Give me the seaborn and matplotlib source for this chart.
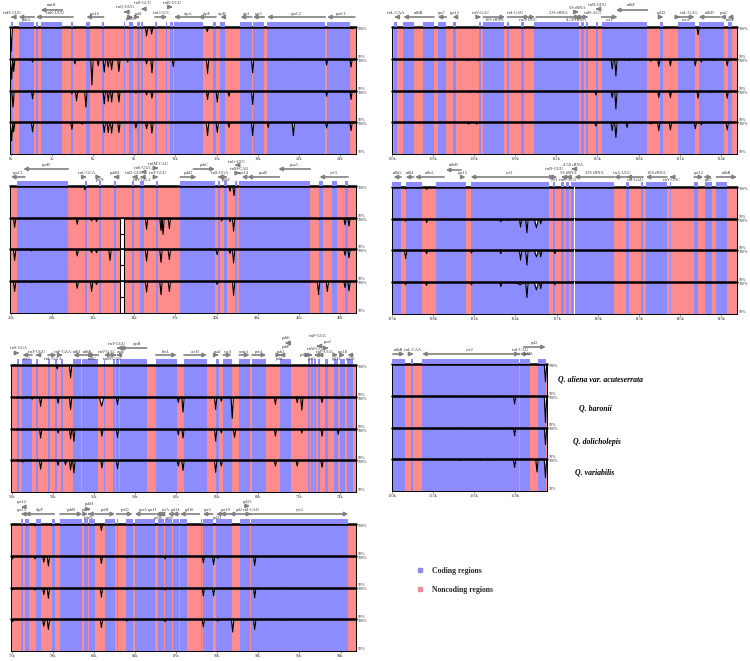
import seaborn as sns
import matplotlib.pyplot as plt
from matplotlib.lines import Line2D

# kb windows and tick labels
p1_ticks = [0, 3, 6, 9, 12, 15, 18, 21, 24]
p2_ticks = [100, 103, 106, 109, 112, 115, 118, 121, 124]
p3_ticks = [25, 28, 31, 34, 37, 40, 43, 46, 49]
p4_ticks = [125, 128, 131, 134, 137, 140, 143, 146, 149]
p5_ticks = [50, 53, 56, 59, 62, 65, 68, 71, 74]
p6_ticks = [150, 153, 156, 159]
p7_ticks = [75, 78, 81, 84, 87, 90, 93, 96, 99]

species = ['Q. aliena var. acuteserrata', 'Q. baronii', 'Q. dolicholepis', 'Q. variabilis']
legend_labels = ['Coding regions', 'Noncoding regions']

# coding regions (start, end) in kb
p1_coding = [(0, .12), (.56, 1.70), (1.82, 1.95), (2.17, 3.75), (4.40, 4.53), (5.50, 5.77), (6.64, 6.76),
             (8.25, 8.35), (8.64, 8.88), (9.20, 9.39), (9.49, 9.64), (10.51, 10.66), (11.31, 11.41),
             (11.63, 11.80), (11.90, 14.01), (14.74, 14.96), (15.28, 15.60), (16.74, 17.57), (17.66, 18.49),
             (18.69, 22.94), (23.07, 24.72)]
p2_coding = [(100.17, 100.34), (100.78, 101.58), (102.23, 103.06), (103.33, 103.91), (104.42, 104.69),
             (106.36, 106.53), (106.66, 108.21), (108.43, 108.55), (109.42, 109.64), (110.40, 113.65),
             (113.82, 114.04), (114.14, 114.33), (114.87, 115.01), (115.30, 118.65), (119.55, 119.82),
             (120.91, 122.10), (122.39, 123.95), (123.97, 124.27), (124.51, 124.85)]
p3_coding = [(25.44, 29.18), (30.38, 30.52), (31.42, 31.59), (32.49, 32.69), (33.83, 33.98), (34.42, 34.68),
             (35.58, 35.75), (37.36, 39.89), (40.08, 40.26), (40.57, 40.79), (41.33, 41.50), (41.64, 41.84),
             (41.89, 46.85), (47.51, 47.75), (48.45, 48.77), (49.38, 49.60)]
p4_coding = [(124.9, 125.66), (126.0, 127.19), (128.21, 130.37), (130.73, 136.44), (136.73, 136.88),
             (137.36, 137.51), (137.70, 137.90), (138.09, 141.20), (142.08, 142.29), (143.19, 143.31),
             (143.51, 145.04), (145.26, 145.38), (147.03, 147.32), (147.81, 148.34), (148.66, 149.46)]
p5_coding = [(50.39, 50.56), (50.78, 51.48), (51.75, 51.90), (52.65, 52.80), (53.16, 53.28), (53.60, 53.72),
             (54.50, 55.06), (55.13, 56.33), (56.74, 56.81), (57.42, 57.54), (57.66, 57.86), (57.91, 59.88),
             (60.54, 62.07), (62.60, 64.28), (64.94, 65.13), (65.47, 66.08), (66.64, 67.40), (67.57, 68.61),
             (69.59, 70.39), (71.68, 71.82), (71.87, 72.02), (72.12, 72.26), (72.38, 72.58), (72.92, 73.16),
             (73.58, 73.87), (73.99, 74.38), (74.55, 74.96)]
p6_coding = [(149.9, 150.92), (151.41, 151.56), (152.19, 159.25), (159.32, 160.07), (160.66, 161.22)]
p7_coding = [(75.68, 75.85), (75.97, 76.27), (76.80, 77.17), (77.94, 78.14), (78.53, 80.16), (80.26, 80.57),
             (80.67, 81.06), (81.84, 82.54), (82.66, 82.76), (83.35, 83.83), (83.98, 85.49), (85.66, 86.09),
             (86.17, 86.73), (86.80, 87.21), (87.29, 87.77), (88.82, 88.92), (88.94, 89.67), (89.91, 91.06),
             (91.67, 92.40), (92.49, 99.57)]

# genes: names, arrow start, arrow end (kb), direction follows start -> end
p1_names = ['trnH-GUG', 'psbA', 'matK', 'trnK-UUU', 'rps16', 'trnQ-UUG', 'psbK', 'psbI', 'trnS-GCU', 'trnG-GCC',
            'trnR-UCU', 'atpA', 'atpF', 'atpH', 'atpI', 'rps2', 'rpoC2', 'rpoC1']
p1_from = [.12, 1.70, 3.75, 4.53, 6.76, 8.35, 8.64, 9.20, 9.64, 10.51, 11.63, 14.01, 14.96, 15.60, 17.57, 18.49, 22.94, 25.10]
p1_to = [0, .56, 2.17, 1.82, 5.50, 8.25, 8.88, 9.39, 9.49, 11.41, 11.80, 11.90, 13.67, 15.28, 16.74, 17.66, 18.69, 23.07]
p1_rows = [(10, 14), (10, 7), (17, 22), (10, 14), (10, 13.5), (15, 20), (10, 8), (10, 13), (18, 24), (10, 14),
           (20, 24), (10, 13.5), (10, 13.5), (10, 13.5), (10, 13.5), (10, 13.5), (10, 13.5), (10, 13.5)]

p2_names = ['trnL-CAA', 'ndhB', 'rps7', 'rps12', 'trnV-GAC', '16S rRNA', 'trnI-GAU', 'trnA-UGC', '23S rRNA',
            '4.5S rRNA', '5S rRNA', 'trnR-ACG', 'trnN-GUU', 'ycf1', 'ndhF', 'rpl32', 'trnL-UAG', 'ccsA', 'ndhD',
            'psaC', 'ndhE']
p2_from = [100.34, 103.06, 103.96, 104.71, 106.36, 106.66, 108.43, 109.64, 110.52, 113.82, 113.50, 114.14, 115.01,
           115.30, 118.65, 119.55, 120.91, 120.91, 123.95, 124.27, 124.85]
p2_to = [100.17, 100.83, 103.33, 104.42, 106.50, 108.26, 110.44, 109.42, 113.72, 113.99, 113.63, 114.33, 114.87,
         116.47, 116.35, 119.82, 121.04, 122.10, 122.39, 123.97, 124.51]
p2_rows = [(10, 14), (10, 14), (10, 14), (10, 14), (10, 14), (10, 7), (10, 14, -7), (10, 7, 5), (10, 14), (10, 7, -6),
           (15, 19), (10, 14, 5), (18, 22), (10, 7), (17, 22), (10, 14), (10, 14, 9), (10, 7), (10, 14), (10, 14, 2),
           (10, 7)]

p3_names = ['rpoC1', 'rpoB', 'trnC-GCA', 'petN', 'psbM', 'trnD-GUC', 'trnE-UUC', 'trnY-GUA', 'trnfM-CAU', 'trnT-GGU',
            'psbD', 'psbC', 'trnS-UGA', 'psbZ', 'trnG-UCC', 'trnM-CAU', 'rps14', 'psaB', 'psaA', 'ycf3']
p3_from = [26.02, 29.18, 30.38, 31.44, 32.69, 33.98, 34.66, 34.55, 35.63, 35.58, 37.36, 38.31, 40.26, 40.57, 41.50,
           41.60, 42.20, 44.59, 46.85, 49.60]
p3_to = [25.0, 25.90, 30.52, 31.57, 32.49, 33.83, 34.47, 34.42, 35.75, 35.75, 38.55, 39.89, 40.08, 40.79, 41.33,
         41.72, 41.84, 42.25, 44.51, 47.51]
p3_rows = [(9, 13), (17, 21), (9, 13), (9, 6), (9, 13), (9, 13), (14, 18), (9, 6), (18, 22), (9, 13), (9, 13),
           (17, 21), (9, 13), (9, 6), (21, 24), (13, 17), (9, 13), (9, 13), (17, 21), (9, 13)]

p4_names = ['ndhG', 'ndhI', 'ndhA', 'ndhH', 'rps15', 'ycf1', 'trnN-GUU', 'ycf1', '5S rRNA', 'trnR-ACG', '4.5S rRNA',
            '23S rRNA', 'trnA-UGC', 'trnI-GAU', '16S rRNA', 'trnV-GAC', 'rps12', 'rps7', 'ndhB']
p4_from = [125.66, 126.58, 128.79, 130.03, 130.03, 136.44, 136.73, 136.75, 137.51, 137.90, 138.25, 141.20, 142.20,
           143.31, 145.04, 145.38, 147.03, 147.81, 148.66]
p4_to = [125.12, 126.0, 126.68, 128.93, 130.37, 130.73, 136.88, 137.05, 137.36, 137.70, 138.09, 138.30, 141.20,
         142.10, 143.51, 145.26, 147.70, 148.34, 150.15]
p4_rows = [(10, 14), (10, 14), (10, 14), (17, 22), (10, 14), (10, 14), (10, 18), (10, 7), (10, 14, 6), (10, 7), (18, 22),
           (10, 14), (10, 14), (10, 7), (10, 14), (10, 7), (10, 14), (10, 7), (10, 14)]

p5_names = ['trnS-GGA', 'rps4', 'trnT-UGU', 'trnL-UAA', 'trnF-GAA', 'ndhJ', 'ndhK', 'ndhC', 'trnV-UAC', 'trnM-CAU',
            'trnT-GGU', 'atpE', 'atpB', 'rbcL', 'accD', 'psaI', 'ycf4', 'cemA', 'petA', 'psbJ', 'psbL', 'psbF', 'psbE',
            'petL', 'petG', 'trnW-CCA', 'trnP-UGG', 'psaJ', 'trnP-GGG', 'rpl33', 'rps18', 'rpl20']
p5_from = [50.39, 51.48, 51.90, 52.65, 53.60, 55.06, 55.13, 56.33, 57.54, 57.54, 57.80, 57.86, 59.88, 60.54, 62.60,
           64.94, 65.47, 66.64, 67.57, 69.78, 69.59, 70.20, 70.20, 71.68, 71.87, 72.26, 72.58, 73.00, 72.40, 73.58,
           73.99, 74.96]
p5_to = [50.56, 50.78, 51.75, 53.28, 53.72, 54.50, 56.0, 55.5, 56.74, 57.66, 57.70, 57.66, 57.91, 62.07, 64.28,
         65.13, 66.08, 67.40, 68.61, 69.59, 69.70, 70.00, 70.00, 71.82, 72.02, 72.12, 72.38, 73.16, 72.30, 73.87,
         74.38, 74.55]
p5_rows = [(12, 17), (10, 6), (10, 13), (10, 6), (10, 13), (10, 13), (10, 13), (10, 6), (10, 13, -3), (10, 6, -4), (17, 21, -2),
           (10, 13, 3), (17, 21, 4), (10, 13), (10, 13), (10, 13), (10, 13), (10, 13), (10, 13), (10, 13), (10, 6), (22, 18),
           (22, 27), (10, 10, -5), (10, 6), (10, 16), (10, 13, 5), (17, 23), (19, 29), (10, 6), (10, 13), (10, 6)]

p6_names = ['ndhB', 'trnL-CAA', 'ycf2', 'trnI-CAU', 'rpl23', 'rpl2']
p6_from = [150.07, 151.41, 159.20, 159.25, 160.07, 159.61]
p6_to = [150.92, 151.56, 152.19, 159.32, 159.32, 161.22]
p6_rows = [(10, 14), (10, 14), (10, 14), (10, 14), (10, 10, 4), (17, 21)]

p7_names = ['rps12', 'rps12', 'clpP', 'psbB', 'psbT', 'psbN', 'psbH', 'petB', 'petD', 'rpoA', 'rps11', 'rpl36', 'infA',
            'rps8', 'rpl14', 'rpl16', 'rps3', 'rpl22', 'rps19', 'rpl2', 'rpl23', 'trnI-CAU', 'ycf2']
p7_from = [75.85, 75.85, 78.11, 78.53, 80.26, 80.67, 80.57, 81.06, 82.66, 85.49, 85.90, 85.75, 86.09, 86.73, 87.21,
           88.70, 89.67, 90.21, 91.06, 92.40, 92.00, 92.40, 92.49]
p7_to = [75.68, 75.68, 75.97, 80.16, 80.57, 80.57, 80.75, 82.54, 83.83, 83.98, 85.49, 85.66, 85.80, 86.40, 86.73,
         87.29, 88.94, 89.91, 90.21, 90.90, 92.40, 92.49, 99.57]
p7_rows = [(10, 14), (17, 22), (10, 14), (10, 14), (10, 14), (10, 6), (15, 20), (10, 14), (10, 14), (10, 14, -2), (10, 14, -5),
           (10, 6), (10, 14, 4), (10, 6), (10, 14), (10, 14), (10, 14), (10, 6), (10, 14), (10, 14), (18, 22), (10, 14), (10, 14)]

# conservation dips per track: (kb, lowest %) or (start, end, lowest %) for the wide ones
p1_t1 = [(0.02, 62), (2.0, 98), (4.7, 98), (9.90, 86), (10.27, 89), (14.33, 93), (24.9, 97)]
p1_t2 = [(0.05, 68), (.20, 80), (1.58, 95), (4.67, 92), (4.95, 97), (5.91, 59), (6.37, 89), (6.81, 79), (7.10, 87), (7.35, 83),
         (7.88, 80), (8.52, 95), (9.12, 97), (9.90, 92), (10.29, 78), (11.85, 88), (14.35, 77), (17.64, 78), (20.5, 98),
         (23.04, 90), (24.82, 87)]
p1_t3 = [(.15, 74), (1.58, 87), (4.45, 95), (4.79, 84), (5.47, 74), (6.81, 79), (7.10, 83), (7.35, 82), (7.88, 82),
         (9.12, 96), (9.90, 93), (10.29, 88), (14.35, 86), (15.06, 82), (15.91, 91), (17.64, 78), (23.04, 91), (24.82, 86)]
p1_t4 = [(.05, 71), (.2, 85), (1.58, 85), (4.45, 89), (5.2, 97), (6.81, 84), (7.10, 84), (7.35, 83), (7.88, 84), (9.12, 91),
         (9.90, 90), (10.29, 83), (14.35, 79), (15.06, 84), (15.91, 92), (17.64, 79), (18.78, 92), (20.61, 79), (23.04, 91),
         (24.82, 87)]
p2_t1 = [(119.0, 98), (119.9, 98), (122.35, 88)]
p2_t2 = [(105.6, 97), (106.3, 97), (113.6, 98), (114.3, 98), (116.08, 84), (116.35, 73), (117.3, 97), (118.9, 96),
         (119.48, 88), (120.33, 89), (122.15, 89), (122.59, 95), (123.5, 97), (124.48, 89)]
p2_t3 = [(105.8, 97), (106.3, 97), (114.89, 93), (116.08, 89), (116.35, 71), (117.4, 98), (119.48, 89), (120.33, 89),
         (122.35, 88), (123.3, 97), (124.48, 88)]
p2_t4 = [(105.6, 97), (106.2, 97), (114.89, 94), (116.08, 87), (116.35, 76), (117.17, 92), (118.9, 97), (119.48, 87),
         (120.33, 88), (122.15, 90), (122.6, 96), (124.48, 88)]
p3_t1 = [(30.4, 94), (32.2, 98), (40.99, 92), (41.28, 85)]
p3_t2 = [(25.27, 85), (26.5, 98), (29.84, 90), (30.89, 95), (31.25, 94), (34.9, 82), (35.95, 80), (36.10, 74), (36.56, 83),
         (40.38, 95), (40.99, 94), (41.25, 79), (47.5, 97), (49.38, 89), (49.67, 87)]
p3_t3 = [(25.27, 83), (26.5, 98), (29.84, 90), (30.89, 95), (31.25, 95), (32.23, 83), (34.9, 82), (35.95, 80), (36.56, 84),
         (39.95, 40.15, 92), (40.99, 94), (41.25, 79), (49.38, 91), (49.67, 87)]
p3_t4 = [(25.27, 84), (26.5, 98), (29.84, 89), (30.89, 84), (31.25, 95), (34.9, 83), (35.95, 79), (36.56, 84),
         (39.95, 40.15, 95), (41.25, 78), (47.45, 79), (48.09, 84), (49.38, 90), (49.67, 85)]
p4_t1 = [(126.0, 97), (127.53, 96)]
p4_t2 = [(126.0, 96), (127.53, 94), (128.74, 98), (130.8, 98), (132.94, 95), (133.48, 97), (134.38, 87), (134.84, 78),
         (135.37, 135.7, 86), (135.85, 92)]
p4_t3 = [(126.0, 87), (127.53, 95), (130.8, 96), (132.94, 95), (134.38, 85), (134.84, 77), (135.37, 135.7, 90),
         (135.85, 90), (136.88, 95)]
p4_t4 = [(126.0, 96), (127.53, 95), (130.8, 96), (132.94, 93), (134.0, 134.7, 96), (134.84, 76), (135.37, 135.7, 88),
         (135.85, 90), (136.88, 96)]
p5_t1 = [(51.6, 98), (53.33, 94), (54.31, 80)]
p5_t2 = [(50.8, 97), (51.5, 96), (52.12, 85), (53.4, 90), (54.31, 80), (56.4, 56.75, 85), (57.74, 88), (62.19, 91), (62.53, 76),
         (64.92, 80), (65.33, 93), (66.13, 66), (69.29, 88), (70.88, 91), (71.22, 79), (72.7, 91), (73.9, 97)]
p5_t3 = [(50.8, 97), (52.12, 85), (53.4, 93), (54.31, 84), (54.55, 80), (56.6, 88), (57.74, 86), (62.19, 90), (62.53, 85),
         (64.92, 80), (65.33, 93), (66.2, 66.4, 86), (69.29, 88), (71.22, 93), (72.7, 88), (73.88, 91)]
p5_t4 = [(50.8, 97), (52.12, 86), (53.4, 92), (53.94, 93), (54.31, 85), (54.55, 80), (56.6, 88), (57.74, 87), (62.19, 91),
         (62.53, 84), (64.92, 81), (65.33, 91), (69.29, 91), (70.88, 91), (72.7, 89)]
p6_t1 = [(161.2, 72)]
p6_t2 = [(154.99, 98), (156.2, 98), (156.5, 98), (157.4, 98), (158.3, 98), (158.95, 87), (161.2, 58)]
p6_t3 = [(154.99, 98), (156.5, 98), (158.3, 98), (158.95, 87), (161.2, 73)]
p6_t4 = [(154.99, 98), (156.5, 98), (157.4, 98), (158.95, 87), (160.58, 80), (161.2, 71)]
p7_t1 = [(76.7, 97), (81.55, 90)]
p7_t2 = [(75.0, 75.15, 95), (76.7, 95), (77.25, 77.45, 90), (77.68, 84), (81.55, 88), (83.4, 97), (86.2, 95), (88.99, 89),
         (89.74, 86), (89.95, 90.15, 96), (92.74, 85), (95.0, 98)]
p7_t3 = [(75.0, 75.15, 96), (76.7, 96), (77.25, 77.45, 89), (77.68, 83), (81.55, 85), (83.4, 97), (86.2, 96), (88.99, 87),
         (89.74, 87), (89.95, 90.15, 97), (92.74, 84), (95.0, 98)]
p7_t4 = [(75.0, 75.15, 96), (77.25, 77.45, 89), (77.68, 84), (81.55, 87), (83.4, 97), (86.2, 96), (88.99, 88),
         (89.95, 90.15, 97), (91.13, 80), (92.74, 84), (95.0, 98)]

CODING = '#8c8cff'
NONCODING = '#ff8c8c'
ARROW = '#808080'
W, H = 750, 661
TRACK_H = 31.75

sns.set_theme(style='white')
plt.rcParams['font.family'] = ['Liberation Serif', 'DejaVu Serif']
fig = plt.figure(figsize=(W / 100, H / 100), dpi=100)


def px_axes(left, top, width, height):
    return fig.add_axes([left / W, 1 - (top + height) / H, width / W, height / H])


def dip_curve(dips, x0, x1):
    # each dip leaves the 100% line and comes back to it
    xs, ys = [x0], [100]
    for d in sorted(dips):
        if len(d) == 2:
            a, b, low = d[0] - .09, d[0] + .09, d[1]
        else:
            a, b, low = d
        xs += [a, (a + b) / 2, b]
        ys += [100, low, 100]
    xs.append(x1)
    ys.append(100)
    return xs, ys


def draw_panel(left, right, top, xlim, ticks, coding, names, start, end, rows, tracks):
    tops = []
    for i, dips in enumerate(tracks):
        ax = px_axes(left, top + i * TRACK_H, right - left, TRACK_H)
        ax.set_facecolor(NONCODING)
        for a, b in coding:
            ax.axvspan(a, b, color=CODING, lw=0)
        xs, ys = dip_curve(dips, xlim[0], xlim[1])
        ax.fill_between(xs, ys, 100, color='white', lw=0)
        sns.lineplot(x=xs, y=ys, ax=ax, color='black', lw=.85, estimator=None, sort=False, legend=False)
        ax.axhline(100, color='black', lw=1.8, clip_on=False)
        ax.set_xlim(xlim)
        ax.set_ylim(50, 100)
        ax.yaxis.tick_right()
        ax.set_yticks([50, 100], ['50%', '100%'])
        ax.tick_params(axis='y', length=0, pad=1.5, labelsize=3, labelcolor='#333333')
        lab = ax.get_yticklabels()
        lab[0].set_va('bottom')
        lab[1].set_va('top')
        if i == len(tracks) - 1:
            ax.set_xticks(ticks, [f'{t}k' for t in ticks])
            ax.tick_params(axis='x', length=1.2, width=.4, pad=.8, labelsize=3.2, labelcolor='#333333', bottom=True)
        else:
            ax.set_xticks([])
        for s in ax.spines.values():
            s.set_linewidth(.7)
            s.set_color('black')
        ax.spines['top'].set_visible(False)
        if i < len(tracks) - 1:
            ax.spines['bottom'].set_visible(False)
        tops.append(ax)

    # gene strip above the tracks, y is pixels above the frame
    ga = px_axes(left, top - 30, right - left, 30)
    ga.patch.set_alpha(0)
    ga.axis('off')
    ga.set_xlim(xlim)
    ga.set_ylim(0, 30)
    ga.bar([a for a, b in coding], 5, width=[b - a for a, b in coding], bottom=.5, align='edge', color=CODING, lw=0)
    per_px = (xlim[1] - xlim[0]) / (right - left)
    for name, a, b, row in zip(names, start, end, rows):
        ga.annotate('', xy=(b, row[0]), xytext=(a, row[0]), annotation_clip=False,
                    arrowprops=dict(arrowstyle='-|>,head_length=2.2,head_width=1.1', mutation_scale=1, lw=1.2,
                                    color=ARROW, shrinkA=0, shrinkB=0))
        shift = row[2] if len(row) > 2 else 0
        ga.text((a + b) / 2 + shift * per_px, row[1], name, fontsize=3.2, color='#333333', ha='center', va='center',
                clip_on=False)
    return tops


draw_panel(10, 356, 27, (-.07, 25.18), p1_ticks, p1_coding, p1_names, p1_from, p1_to, p1_rows, [p1_t1, p1_t2, p1_t3, p1_t4])
draw_panel(392, 737, 27, (100, 125.19), p2_ticks, p2_coding, p2_names, p2_from, p2_to, p2_rows, [p2_t1, p2_t2, p2_t3, p2_t4])
a3 = draw_panel(10, 356, 186, (24.93, 50.18), p3_ticks, p3_coding, p3_names, p3_from, p3_to, p3_rows, [p3_t1, p3_t2, p3_t3, p3_t4])
a4 = draw_panel(392, 737, 187, (125, 150.16), p4_ticks, p4_coding, p4_names, p4_from, p4_to, p4_rows, [p4_t1, p4_t2, p4_t3, p4_t4])
draw_panel(11, 356, 365, (49.95, 75.18), p5_ticks, p5_coding, p5_names, p5_from, p5_to, p5_rows, [p5_t1, p5_t2, p5_t3, p5_t4])
draw_panel(392, 547, 364, (150, 161.31), p6_ticks, p6_coding, p6_names, p6_from, p6_to, p6_rows, [p6_t1, p6_t2, p6_t3, p6_t4])
draw_panel(11, 356, 524, (74.95, 100.13), p7_ticks, p7_coding, p7_names, p7_from, p7_to, p7_rows, [p7_t1, p7_t2, p7_t3, p7_t4])

# alignment gaps
for ax in a3[1:]:
    ax.axvspan(32.96, 33.25, facecolor='white', edgecolor='black', lw=.8, zorder=4)
    ax.hlines(75, 32.96, 33.25, color='black', lw=.8, zorder=5)
for ax in a4:
    ax.axvspan(138.26, 138.31, color='white', lw=0, zorder=4)

for name, x, y in zip(species, [601, 595, 597, 595], [379, 408, 442, 473]):
    fig.text(x / W, 1 - y / H, name, fontsize=5.6, style='italic', weight='bold', color='black', ha='center', va='center')

handles = [Line2D([], [], marker='s', ls='', ms=2.8, color=c) for c in ['#8c8cee', '#ee8c9a']]
fig.legend(handles, legend_labels, loc='upper left', bbox_to_anchor=(409 / W, 1 - 564 / H), frameon=False,
           prop={'size': 5.6, 'weight': 'bold'}, labelspacing=1.4, handletextpad=.6, borderpad=.4, borderaxespad=0)

fig.savefig('out.png', dpi=100)
